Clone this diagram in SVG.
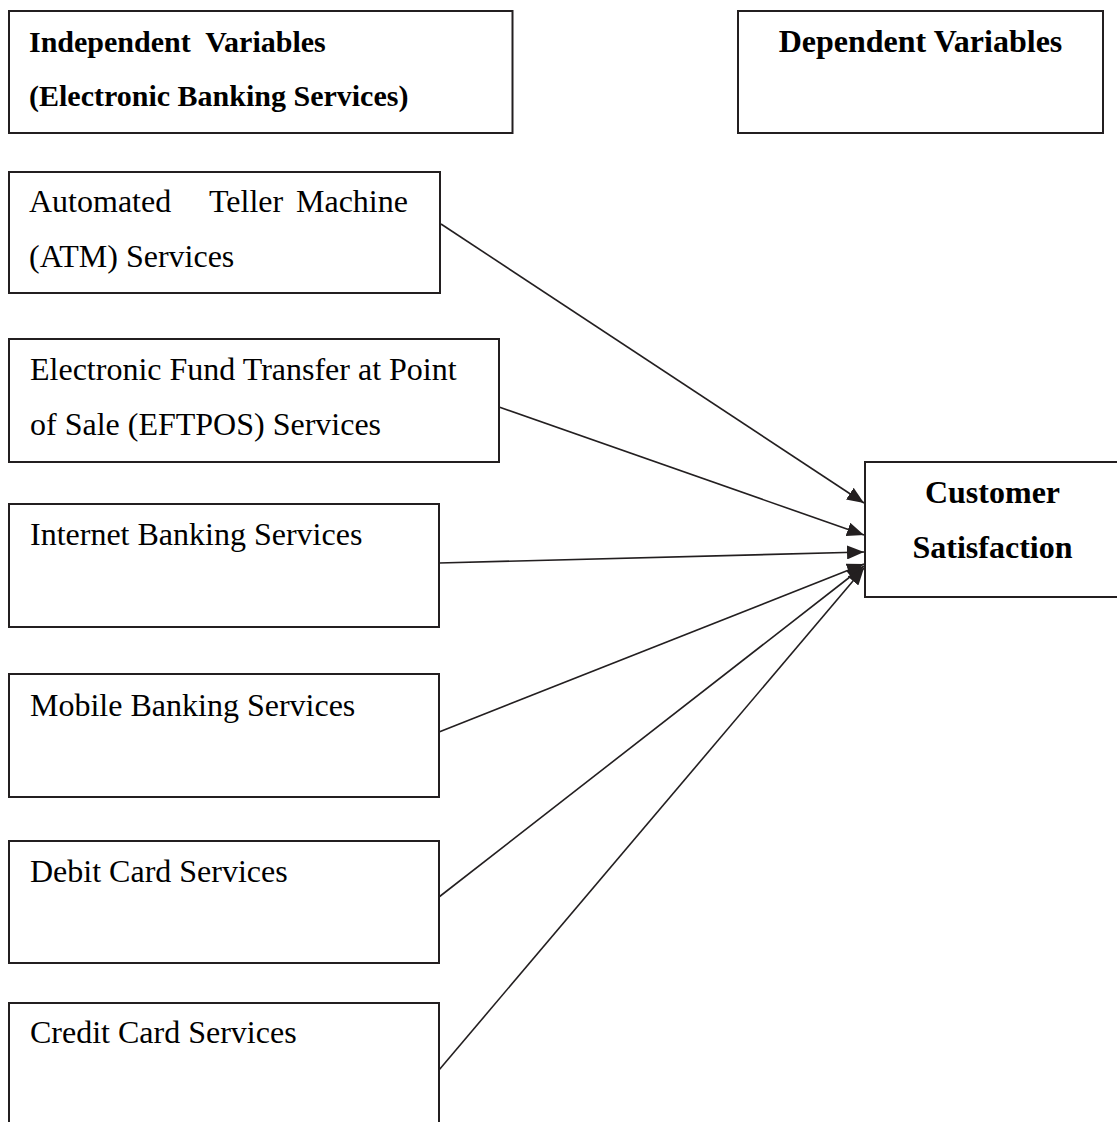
<svg xmlns="http://www.w3.org/2000/svg" width="1117" height="1122" viewBox="0 0 1117 1122">
<style>
.box{fill:#fff;stroke:#231f20;stroke-width:2}
.t{font-family:"Liberation Serif","Times New Roman",serif;font-size:32px;fill:#000}
.h{font-family:"Liberation Serif","Times New Roman",serif;font-weight:bold;fill:#000}
.c{fill:none;stroke:#231f20;stroke-width:1.6}
</style>
<defs>
<marker id="arr" markerUnits="userSpaceOnUse" markerWidth="18" markerHeight="14" refX="17" refY="7" orient="auto">
<path d="M0,0 L17,7 L0,14 z" fill="#231f20"/>
</marker>
</defs>
<rect width="1117" height="1122" fill="#fff"/>
<g id="connectors">
<line class="c" x1="441" y1="224" x2="864" y2="503" marker-end="url(#arr)"/>
<line class="c" x1="499" y1="407" x2="864" y2="535" marker-end="url(#arr)"/>
<line class="c" x1="439" y1="563" x2="864" y2="552" marker-end="url(#arr)"/>
<line class="c" x1="439" y1="732" x2="864" y2="564" marker-end="url(#arr)"/>
<line class="c" x1="439" y1="897" x2="864" y2="566" marker-end="url(#arr)"/>
<line class="c" x1="439" y1="1070" x2="864" y2="568" marker-end="url(#arr)"/>
</g>
<g id="independent-header">
<rect class="box" x="9" y="11" width="503.5" height="122"/>
<text class="h" font-size="30" x="29" y="52" xml:space="preserve">Independent  Variables</text>
<text class="h" font-size="30" x="29" y="106">(Electronic Banking Services)</text>
</g>
<g id="dependent-header">
<rect class="box" x="738" y="11" width="365" height="122"/>
<text class="h" font-size="32" x="920.5" y="52" text-anchor="middle">Dependent Variables</text>
</g>
<g id="atm">
<rect class="box" x="9" y="172" width="431" height="121"/>
<text class="t" y="212"><tspan x="29">Automated</tspan><tspan x="209">Teller</tspan><tspan x="296">Machine</tspan></text>
<text class="t" x="29" y="267">(ATM) Services</text>
</g>
<g id="eftpos">
<rect class="box" x="9" y="339" width="490" height="123"/>
<text class="t" x="30" y="380">Electronic Fund Transfer at Point</text>
<text class="t" x="30" y="435">of Sale (EFTPOS) Services</text>
</g>
<g id="internet">
<rect class="box" x="9" y="504" width="430" height="123"/>
<text class="t" x="30" y="545">Internet Banking Services</text>
</g>
<g id="mobile">
<rect class="box" x="9" y="674" width="430" height="123"/>
<text class="t" x="30" y="716">Mobile Banking Services</text>
</g>
<g id="debit">
<rect class="box" x="9" y="841" width="430" height="122"/>
<text class="t" x="30" y="882">Debit Card Services</text>
</g>
<g id="credit">
<rect class="box" x="9" y="1003" width="430" height="140"/>
<text class="t" x="30" y="1043">Credit Card Services</text>
</g>
<g id="customer-satisfaction">
<rect class="box" x="865" y="462" width="260" height="135"/>
<text class="h" font-size="32" x="992.5" y="503" text-anchor="middle">Customer</text>
<text class="h" font-size="32" x="992.5" y="558" text-anchor="middle">Satisfaction</text>
</g>
</svg>
